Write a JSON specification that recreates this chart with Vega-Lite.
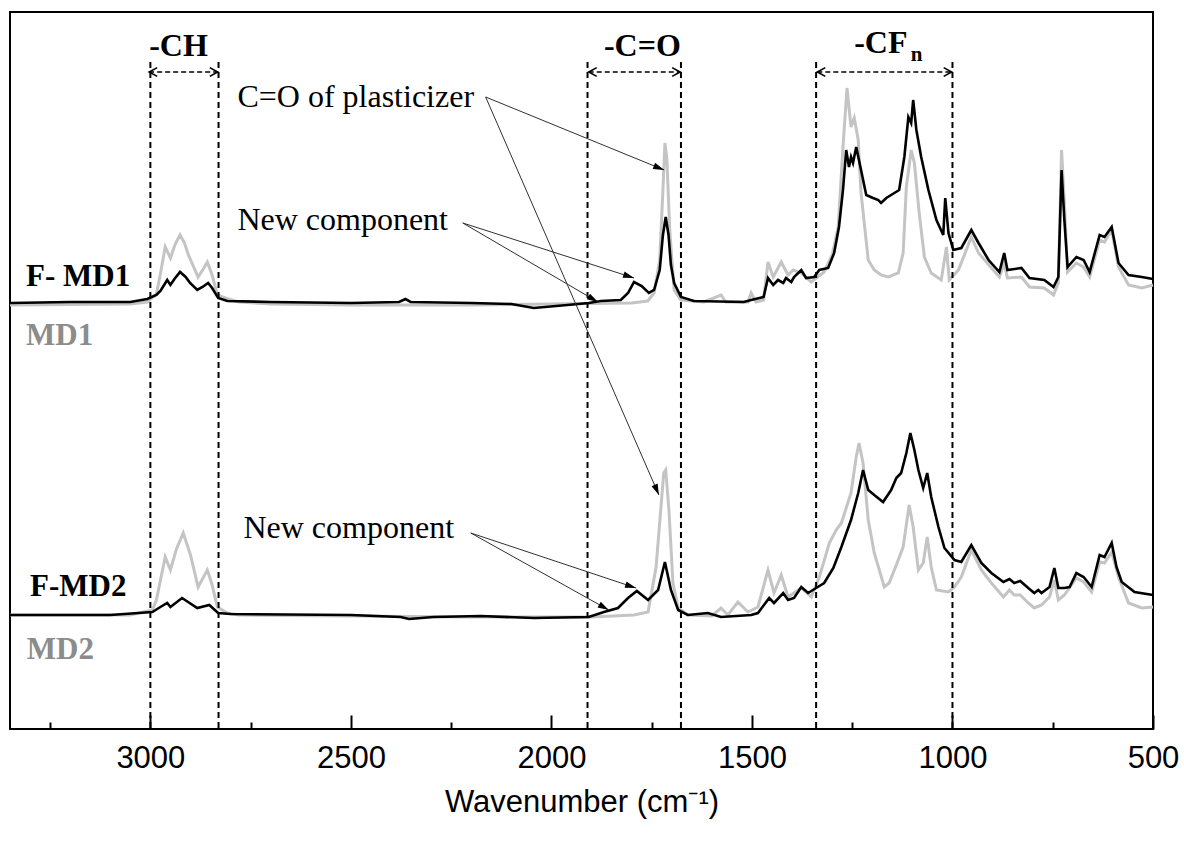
{
  "$schema": "https://vega.github.io/schema/vega-lite/v6.json",
  "width": 1143,
  "height": 717,
  "autosize": {"type": "none"},
  "padding": {"left": 10, "top": 12, "right": 31, "bottom": 114},
  "background": "white",
  "config": {"view": {"stroke": "black", "strokeWidth": 2}, "axis": {"grid": false}},
  "resolve": {"scale": {"x": "independent"}, "axis": {"x": "independent"}},
  "datasets": {
    "md1": [
      {"x":3350,"y":4.24},{"x":3050,"y":4.25},{"x":3008,"y":4.27},{"x":2985,"y":4.35},{"x":2975,"y":4.55},{"x":2963,"y":4.82},{"x":2950,"y":4.71},{"x":2938,"y":4.85},{"x":2926,"y":4.94},{"x":2915,"y":4.86},{"x":2905,"y":4.74},{"x":2881,"y":4.52},{"x":2868,"y":4.6},{"x":2858,"y":4.67},{"x":2846,"y":4.54},{"x":2833,"y":4.34},{"x":2813,"y":4.31},{"x":2780,"y":4.27},{"x":2700,"y":4.25},{"x":2500,"y":4.24},{"x":2200,"y":4.24},{"x":2000,"y":4.25},{"x":1800,"y":4.26},{"x":1760,"y":4.28},{"x":1744,"y":4.36},{"x":1730,"y":4.69},{"x":1722,"y":5.39},{"x":1717,"y":5.86},{"x":1712,"y":5.69},{"x":1705,"y":4.99},{"x":1694,"y":4.39},{"x":1677,"y":4.29},{"x":1620,"y":4.27},{"x":1577,"y":4.34},{"x":1565,"y":4.27},{"x":1510,"y":4.27},{"x":1502,"y":4.36},{"x":1490,"y":4.27},{"x":1471,"y":4.29},{"x":1460,"y":4.67},{"x":1447,"y":4.52},{"x":1427,"y":4.67},{"x":1410,"y":4.54},{"x":1397,"y":4.59},{"x":1377,"y":4.56},{"x":1352,"y":4.47},{"x":1340,"y":4.51},{"x":1320,"y":4.57},{"x":1300,"y":4.74},{"x":1285,"y":5.02},{"x":1273,"y":5.82},{"x":1263,"y":6.41},{"x":1253,"y":6.02},{"x":1245,"y":6.11},{"x":1235,"y":5.89},{"x":1228,"y":5.36},{"x":1210,"y":4.69},{"x":1195,"y":4.59},{"x":1178,"y":4.54},{"x":1160,"y":4.52},{"x":1135,"y":4.56},{"x":1123,"y":4.76},{"x":1115,"y":5.42},{"x":1103,"y":5.79},{"x":1095,"y":5.66},{"x":1083,"y":5.16},{"x":1070,"y":4.72},{"x":1053,"y":4.56},{"x":1028,"y":4.49},{"x":1015,"y":4.82},{"x":1008,"y":4.49},{"x":985,"y":4.59},{"x":953,"y":4.92},{"x":935,"y":4.76},{"x":883,"y":4.52},{"x":871,"y":4.66},{"x":863,"y":4.51},{"x":828,"y":4.52},{"x":808,"y":4.42},{"x":771,"y":4.41},{"x":748,"y":4.34},{"x":736,"y":4.46},{"x":728,"y":5.79},{"x":721,"y":5.26},{"x":713,"y":4.57},{"x":691,"y":4.66},{"x":673,"y":4.62},{"x":658,"y":4.52},{"x":633,"y":4.89},{"x":621,"y":4.87},{"x":603,"y":4.99},{"x":586,"y":4.62},{"x":561,"y":4.44},{"x":528,"y":4.41},{"x":500,"y":4.44}
    ],
    "md2": [
      {"x":3350,"y":1.14},{"x":3050,"y":1.14},{"x":2995,"y":1.19},{"x":2985,"y":1.29},{"x":2963,"y":1.72},{"x":2950,"y":1.59},{"x":2935,"y":1.8},{"x":2918,"y":1.96},{"x":2900,"y":1.74},{"x":2881,"y":1.42},{"x":2858,"y":1.59},{"x":2846,"y":1.44},{"x":2833,"y":1.22},{"x":2808,"y":1.16},{"x":2780,"y":1.14},{"x":2500,"y":1.13},{"x":2200,"y":1.12},{"x":1900,"y":1.12},{"x":1794,"y":1.14},{"x":1759,"y":1.17},{"x":1739,"y":1.62},{"x":1720,"y":2.56},{"x":1715,"y":2.59},{"x":1707,"y":2.19},{"x":1697,"y":1.46},{"x":1684,"y":1.21},{"x":1660,"y":1.14},{"x":1600,"y":1.13},{"x":1577,"y":1.21},{"x":1560,"y":1.14},{"x":1535,"y":1.27},{"x":1510,"y":1.17},{"x":1485,"y":1.22},{"x":1460,"y":1.59},{"x":1445,"y":1.36},{"x":1427,"y":1.54},{"x":1410,"y":1.32},{"x":1377,"y":1.41},{"x":1352,"y":1.32},{"x":1332,"y":1.52},{"x":1307,"y":1.86},{"x":1290,"y":1.99},{"x":1277,"y":2.06},{"x":1253,"y":2.36},{"x":1240,"y":2.72},{"x":1233,"y":2.86},{"x":1223,"y":2.66},{"x":1210,"y":2.09},{"x":1195,"y":1.76},{"x":1170,"y":1.42},{"x":1158,"y":1.46},{"x":1140,"y":1.64},{"x":1123,"y":1.82},{"x":1108,"y":2.24},{"x":1098,"y":2.02},{"x":1085,"y":1.59},{"x":1073,"y":1.66},{"x":1063,"y":1.92},{"x":1053,"y":1.62},{"x":1040,"y":1.39},{"x":1010,"y":1.37},{"x":995,"y":1.42},{"x":978,"y":1.52},{"x":953,"y":1.79},{"x":928,"y":1.59},{"x":903,"y":1.46},{"x":873,"y":1.32},{"x":858,"y":1.39},{"x":846,"y":1.34},{"x":831,"y":1.34},{"x":811,"y":1.26},{"x":796,"y":1.21},{"x":778,"y":1.24},{"x":758,"y":1.32},{"x":746,"y":1.49},{"x":736,"y":1.29},{"x":721,"y":1.34},{"x":691,"y":1.51},{"x":673,"y":1.47},{"x":653,"y":1.37},{"x":633,"y":1.67},{"x":621,"y":1.66},{"x":603,"y":1.77},{"x":586,"y":1.52},{"x":561,"y":1.26},{"x":528,"y":1.21},{"x":500,"y":1.22}
    ],
    "fmd1": [
      {"x":3350,"y":4.26},{"x":3200,"y":4.27},{"x":3050,"y":4.27},{"x":3008,"y":4.3},{"x":2985,"y":4.34},{"x":2975,"y":4.38},{"x":2958,"y":4.49},{"x":2950,"y":4.44},{"x":2940,"y":4.5},{"x":2926,"y":4.57},{"x":2912,"y":4.52},{"x":2901,"y":4.46},{"x":2883,"y":4.39},{"x":2870,"y":4.42},{"x":2856,"y":4.46},{"x":2846,"y":4.41},{"x":2831,"y":4.31},{"x":2808,"y":4.28},{"x":2700,"y":4.27},{"x":2500,"y":4.26},{"x":2380,"y":4.27},{"x":2364,"y":4.3},{"x":2351,"y":4.27},{"x":2200,"y":4.26},{"x":2100,"y":4.25},{"x":2044,"y":4.21},{"x":1960,"y":4.24},{"x":1907,"y":4.26},{"x":1877,"y":4.28},{"x":1827,"y":4.29},{"x":1809,"y":4.36},{"x":1794,"y":4.47},{"x":1775,"y":4.43},{"x":1757,"y":4.36},{"x":1744,"y":4.39},{"x":1730,"y":4.59},{"x":1722,"y":4.94},{"x":1715,"y":5.12},{"x":1708,"y":4.94},{"x":1702,"y":4.64},{"x":1694,"y":4.46},{"x":1677,"y":4.32},{"x":1645,"y":4.28},{"x":1520,"y":4.27},{"x":1502,"y":4.29},{"x":1471,"y":4.32},{"x":1460,"y":4.51},{"x":1447,"y":4.44},{"x":1435,"y":4.49},{"x":1422,"y":4.46},{"x":1415,"y":4.51},{"x":1402,"y":4.47},{"x":1395,"y":4.52},{"x":1377,"y":4.59},{"x":1365,"y":4.51},{"x":1345,"y":4.52},{"x":1332,"y":4.59},{"x":1310,"y":4.61},{"x":1295,"y":4.76},{"x":1283,"y":5.02},{"x":1273,"y":5.39},{"x":1265,"y":5.79},{"x":1258,"y":5.62},{"x":1253,"y":5.72},{"x":1248,"y":5.66},{"x":1240,"y":5.82},{"x":1228,"y":5.59},{"x":1215,"y":5.34},{"x":1198,"y":5.31},{"x":1185,"y":5.29},{"x":1178,"y":5.26},{"x":1165,"y":5.31},{"x":1145,"y":5.36},{"x":1133,"y":5.39},{"x":1120,"y":5.72},{"x":1110,"y":6.12},{"x":1103,"y":6.06},{"x":1098,"y":6.29},{"x":1090,"y":5.99},{"x":1078,"y":5.72},{"x":1060,"y":5.39},{"x":1040,"y":5.09},{"x":1023,"y":4.94},{"x":1018,"y":5.31},{"x":1010,"y":4.96},{"x":998,"y":4.79},{"x":978,"y":4.81},{"x":953,"y":4.99},{"x":935,"y":4.86},{"x":910,"y":4.69},{"x":883,"y":4.57},{"x":871,"y":4.76},{"x":863,"y":4.59},{"x":828,"y":4.61},{"x":808,"y":4.51},{"x":771,"y":4.49},{"x":748,"y":4.42},{"x":736,"y":4.52},{"x":728,"y":5.59},{"x":721,"y":5.09},{"x":713,"y":4.62},{"x":691,"y":4.72},{"x":673,"y":4.69},{"x":658,"y":4.57},{"x":633,"y":4.94},{"x":621,"y":4.92},{"x":603,"y":5.02},{"x":586,"y":4.66},{"x":561,"y":4.54},{"x":528,"y":4.52},{"x":500,"y":4.5}
    ],
    "fmd2": [
      {"x":3350,"y":1.14},{"x":3100,"y":1.14},{"x":2995,"y":1.17},{"x":2975,"y":1.22},{"x":2958,"y":1.26},{"x":2950,"y":1.22},{"x":2921,"y":1.31},{"x":2883,"y":1.21},{"x":2853,"y":1.24},{"x":2831,"y":1.16},{"x":2800,"y":1.15},{"x":2500,"y":1.14},{"x":2376,"y":1.12},{"x":2355,"y":1.1},{"x":2294,"y":1.12},{"x":2176,"y":1.13},{"x":2044,"y":1.11},{"x":1907,"y":1.12},{"x":1869,"y":1.17},{"x":1834,"y":1.21},{"x":1809,"y":1.31},{"x":1787,"y":1.38},{"x":1759,"y":1.29},{"x":1734,"y":1.39},{"x":1717,"y":1.67},{"x":1702,"y":1.39},{"x":1684,"y":1.19},{"x":1660,"y":1.14},{"x":1610,"y":1.16},{"x":1577,"y":1.12},{"x":1502,"y":1.14},{"x":1485,"y":1.16},{"x":1457,"y":1.31},{"x":1445,"y":1.26},{"x":1422,"y":1.36},{"x":1410,"y":1.29},{"x":1395,"y":1.31},{"x":1377,"y":1.42},{"x":1360,"y":1.36},{"x":1340,"y":1.41},{"x":1320,"y":1.46},{"x":1297,"y":1.61},{"x":1277,"y":1.82},{"x":1253,"y":2.09},{"x":1235,"y":2.36},{"x":1223,"y":2.59},{"x":1210,"y":2.39},{"x":1195,"y":2.34},{"x":1173,"y":2.27},{"x":1153,"y":2.39},{"x":1140,"y":2.51},{"x":1128,"y":2.56},{"x":1115,"y":2.76},{"x":1105,"y":2.96},{"x":1095,"y":2.79},{"x":1085,"y":2.59},{"x":1073,"y":2.41},{"x":1063,"y":2.56},{"x":1053,"y":2.32},{"x":1035,"y":2.02},{"x":1020,"y":1.81},{"x":995,"y":1.69},{"x":978,"y":1.67},{"x":953,"y":1.84},{"x":928,"y":1.66},{"x":903,"y":1.56},{"x":873,"y":1.47},{"x":858,"y":1.5},{"x":846,"y":1.46},{"x":831,"y":1.48},{"x":811,"y":1.41},{"x":796,"y":1.36},{"x":786,"y":1.39},{"x":778,"y":1.36},{"x":758,"y":1.42},{"x":746,"y":1.61},{"x":736,"y":1.41},{"x":721,"y":1.41},{"x":708,"y":1.42},{"x":691,"y":1.56},{"x":673,"y":1.52},{"x":653,"y":1.42},{"x":633,"y":1.74},{"x":621,"y":1.72},{"x":603,"y":1.86},{"x":591,"y":1.62},{"x":578,"y":1.47},{"x":546,"y":1.37},{"x":500,"y":1.34}
    ],
    "vlines": [{"x":3000,"top":6.67,"bottom":0},{"x":2830,"top":6.67,"bottom":0},{"x":1910,"top":6.67,"bottom":0},{"x":1677,"top":6.67,"bottom":0},{"x":1340,"top":6.67,"bottom":0},{"x":1000,"top":6.67,"bottom":0}],
    "brackets": [{"a":3003,"b":2832,"y":6.57},{"a":1907,"b":1679,"y":6.57},{"a":1337,"b":1002,"y":6.57}],
    "arrows": [
      {"id":"a1","x1":2164,"y1":6.32,"x2":1719,"y2":5.59},
      {"id":"a2","x1":2164,"y1":6.32,"x2":1732,"y2":2.34},
      {"id":"a3","x1":2221,"y1":5.06,"x2":1794,"y2":4.51},
      {"id":"a4","x1":2221,"y1":5.06,"x2":1884,"y2":4.27},
      {"id":"a5","x1":2201,"y1":1.96,"x2":1789,"y2":1.41},
      {"id":"a6","x1":2201,"y1":1.96,"x2":1857,"y2":1.19}
    ],
    "labels": [
      {"t":"-CH","x":3003,"y":6.83,"k":"region"},
      {"t":"-C=O","x":1869,"y":6.83,"k":"region"},
      {"t":"-CF","x":1245,"y":6.86,"k":"region"},
      {"t":"n","x":1104,"y":6.74,"k":"sub"},
      {"t":"F- MD1","x":3310,"y":4.52,"k":"sample"},
      {"t":"MD1","x":3310,"y":3.93,"k":"ref"},
      {"t":"F-MD2","x":3300,"y":1.42,"k":"sample"},
      {"t":"MD2","x":3308,"y":0.79,"k":"ref"},
      {"t":"C=O of plasticizer","x":2783,"y":6.32,"k":"note"},
      {"t":"New component","x":2783,"y":5.09,"k":"note"},
      {"t":"New component","x":2768,"y":2.01,"k":"note"}
    ]
  },
  "layer": [
    {
      "data": {"name": "md1"},
      "mark": {"type": "line", "color": "#c4c4c4", "strokeWidth": 3},
      "encoding": {
        "x": {"field": "x", "type": "quantitative", "scale": {"domain": [500, 3350], "reverse": true, "nice": false, "zero": false},
          "axis": {"orient": "bottom", "values": [3000, 2500, 2000, 1500, 1000, 500], "format": "d", "ticks": false, "domain": false, "labelFont": "Liberation Sans", "labelFontSize": 31, "labelColor": "black", "labelPadding": 14, "labelFlush": false, "labelOverlap": false, "labelBound": false, "title": "Wavenumber (cm⁻¹)", "titleFont": "Liberation Sans", "titleFontSize": 31, "titleFontWeight": "normal", "titleColor": "black", "titlePadding": 14}},
        "y": {"field": "y", "type": "quantitative", "scale": {"domain": [0, 7.17], "nice": false, "zero": false}, "axis": null}
      }
    },
    {
      "data": {"name": "md2"},
      "mark": {"type": "line", "color": "#c4c4c4", "strokeWidth": 3},
      "encoding": {
        "x": {"field": "x", "type": "quantitative", "scale": {"domain": [500, 3350], "reverse": true, "nice": false, "zero": false},
          "axis": {"orient": "bottom", "values": [3000, 2500, 2000, 1500, 1000, 500], "labels": false, "domain": false, "title": null, "ticks": true, "offset": -14, "tickSize": 14, "tickWidth": 2, "tickColor": "black"}},
        "y": {"field": "y", "type": "quantitative", "scale": {"domain": [0, 7.17], "nice": false, "zero": false}, "axis": null}
      }
    },
    {
      "data": {"name": "fmd1"},
      "mark": {"type": "line", "color": "black", "strokeWidth": 2.6},
      "encoding": {
        "x": {"field": "x", "type": "quantitative", "scale": {"domain": [500, 3350], "reverse": true, "nice": false, "zero": false},
          "axis": {"orient": "bottom", "values": [3250, 2750, 2250, 1750, 1250, 750], "labels": false, "domain": false, "title": null, "ticks": true, "offset": -7, "tickSize": 7, "tickWidth": 2, "tickColor": "black"}},
        "y": {"field": "y", "type": "quantitative", "scale": {"domain": [0, 7.17], "nice": false, "zero": false}, "axis": null}
      }
    },
    {
      "data": {"name": "fmd2"},
      "mark": {"type": "line", "color": "black", "strokeWidth": 2.6},
      "encoding": {
        "x": {"field": "x", "type": "quantitative", "scale": {"domain": [500, 3350], "reverse": true, "nice": false, "zero": false}, "axis": null},
        "y": {"field": "y", "type": "quantitative", "scale": {"domain": [0, 7.17], "nice": false, "zero": false}, "axis": null}
      }
    },
    {
      "data": {"name": "vlines"},
      "mark": {"type": "rule", "color": "black", "strokeWidth": 2, "strokeDash": [6, 4]},
      "encoding": {
        "x": {"field": "x", "type": "quantitative", "scale": {"domain": [500, 3350], "reverse": true, "nice": false, "zero": false}, "axis": null},
        "y": {"field": "top", "type": "quantitative", "scale": {"domain": [0, 7.17], "nice": false, "zero": false}, "axis": null},
        "y2": {"field": "bottom"}
      }
    },
    {
      "data": {"name": "brackets"},
      "mark": {"type": "rule", "color": "black", "strokeWidth": 1.6, "strokeDash": [5, 3]},
      "encoding": {
        "x": {"field": "a", "type": "quantitative", "scale": {"domain": [500, 3350], "reverse": true, "nice": false, "zero": false}, "axis": null},
        "x2": {"field": "b"},
        "y": {"field": "y", "type": "quantitative", "scale": {"domain": [0, 7.17], "nice": false, "zero": false}, "axis": null}
      }
    },
    {
      "data": {"name": "brackets"},
      "mark": {"type": "point", "shape": "M1,-0.55L0,0L1,0.55", "filled": false, "color": "black", "strokeWidth": 1.6, "size": 256, "opacity": 1},
      "encoding": {
        "x": {"field": "a", "type": "quantitative", "scale": {"domain": [500, 3350], "reverse": true, "nice": false, "zero": false}, "axis": null},
        "y": {"field": "y", "type": "quantitative", "scale": {"domain": [0, 7.17], "nice": false, "zero": false}, "axis": null}
      }
    },
    {
      "data": {"name": "brackets"},
      "mark": {"type": "point", "shape": "M-1,-0.55L0,0L-1,0.55", "filled": false, "color": "black", "strokeWidth": 1.6, "size": 256, "opacity": 1},
      "encoding": {
        "x": {"field": "b", "type": "quantitative", "scale": {"domain": [500, 3350], "reverse": true, "nice": false, "zero": false}, "axis": null},
        "y": {"field": "y", "type": "quantitative", "scale": {"domain": [0, 7.17], "nice": false, "zero": false}, "axis": null}
      }
    },
    {
      "data": {"name": "arrows"},
      "mark": {"type": "rule", "color": "#303030", "strokeWidth": 1},
      "encoding": {
        "x": {"field": "x1", "type": "quantitative", "scale": {"domain": [500, 3350], "reverse": true, "nice": false, "zero": false}, "axis": null},
        "x2": {"field": "x2"},
        "y": {"field": "y1", "type": "quantitative", "scale": {"domain": [0, 7.17], "nice": false, "zero": false}, "axis": null},
        "y2": {"field": "y2"}
      }
    },
    {"data": {"name": "arrows"}, "transform": [{"filter": "datum.id == 'a1'"}],
      "mark": {"type": "point", "shape": "M0,0L-0.6,2L0.6,2Z", "filled": true, "color": "black", "size": 121, "opacity": 1, "angle": 112},
      "encoding": {"x": {"field": "x2", "type": "quantitative", "scale": {"domain": [500, 3350], "reverse": true, "nice": false, "zero": false}, "axis": null}, "y": {"field": "y2", "type": "quantitative", "scale": {"domain": [0, 7.17], "nice": false, "zero": false}, "axis": null}}},
    {"data": {"name": "arrows"}, "transform": [{"filter": "datum.id == 'a2'"}],
      "mark": {"type": "point", "shape": "M0,0L-0.6,2L0.6,2Z", "filled": true, "color": "black", "size": 121, "opacity": 1, "angle": 157},
      "encoding": {"x": {"field": "x2", "type": "quantitative", "scale": {"domain": [500, 3350], "reverse": true, "nice": false, "zero": false}, "axis": null}, "y": {"field": "y2", "type": "quantitative", "scale": {"domain": [0, 7.17], "nice": false, "zero": false}, "axis": null}}},
    {"data": {"name": "arrows"}, "transform": [{"filter": "datum.id == 'a3'"}],
      "mark": {"type": "point", "shape": "M0,0L-0.6,2L0.6,2Z", "filled": true, "color": "black", "size": 121, "opacity": 1, "angle": 108},
      "encoding": {"x": {"field": "x2", "type": "quantitative", "scale": {"domain": [500, 3350], "reverse": true, "nice": false, "zero": false}, "axis": null}, "y": {"field": "y2", "type": "quantitative", "scale": {"domain": [0, 7.17], "nice": false, "zero": false}, "axis": null}}},
    {"data": {"name": "arrows"}, "transform": [{"filter": "datum.id == 'a4'"}],
      "mark": {"type": "point", "shape": "M0,0L-0.6,2L0.6,2Z", "filled": true, "color": "black", "size": 121, "opacity": 1, "angle": 120},
      "encoding": {"x": {"field": "x2", "type": "quantitative", "scale": {"domain": [500, 3350], "reverse": true, "nice": false, "zero": false}, "axis": null}, "y": {"field": "y2", "type": "quantitative", "scale": {"domain": [0, 7.17], "nice": false, "zero": false}, "axis": null}}},
    {"data": {"name": "arrows"}, "transform": [{"filter": "datum.id == 'a5'"}],
      "mark": {"type": "point", "shape": "M0,0L-0.6,2L0.6,2Z", "filled": true, "color": "black", "size": 121, "opacity": 1, "angle": 108},
      "encoding": {"x": {"field": "x2", "type": "quantitative", "scale": {"domain": [500, 3350], "reverse": true, "nice": false, "zero": false}, "axis": null}, "y": {"field": "y2", "type": "quantitative", "scale": {"domain": [0, 7.17], "nice": false, "zero": false}, "axis": null}}},
    {"data": {"name": "arrows"}, "transform": [{"filter": "datum.id == 'a6'"}],
      "mark": {"type": "point", "shape": "M0,0L-0.6,2L0.6,2Z", "filled": true, "color": "black", "size": 121, "opacity": 1, "angle": 119},
      "encoding": {"x": {"field": "x2", "type": "quantitative", "scale": {"domain": [500, 3350], "reverse": true, "nice": false, "zero": false}, "axis": null}, "y": {"field": "y2", "type": "quantitative", "scale": {"domain": [0, 7.17], "nice": false, "zero": false}, "axis": null}}},
    {"data": {"name": "labels"}, "transform": [{"filter": "datum.k == 'region'"}],
      "mark": {"type": "text", "font": "Liberation Serif", "fontWeight": "bold", "fontSize": 32, "color": "black", "align": "left", "baseline": "middle"},
      "encoding": {"x": {"field": "x", "type": "quantitative", "scale": {"domain": [500, 3350], "reverse": true, "nice": false, "zero": false}, "axis": null}, "y": {"field": "y", "type": "quantitative", "scale": {"domain": [0, 7.17], "nice": false, "zero": false}, "axis": null}, "text": {"field": "t"}}},
    {"data": {"name": "labels"}, "transform": [{"filter": "datum.k == 'sub'"}],
      "mark": {"type": "text", "font": "Liberation Serif", "fontWeight": "bold", "fontSize": 21, "color": "black", "align": "left", "baseline": "middle"},
      "encoding": {"x": {"field": "x", "type": "quantitative", "scale": {"domain": [500, 3350], "reverse": true, "nice": false, "zero": false}, "axis": null}, "y": {"field": "y", "type": "quantitative", "scale": {"domain": [0, 7.17], "nice": false, "zero": false}, "axis": null}, "text": {"field": "t"}}},
    {"data": {"name": "labels"}, "transform": [{"filter": "datum.k == 'sample'"}],
      "mark": {"type": "text", "font": "Liberation Serif", "fontWeight": "bold", "fontSize": 31, "color": "black", "align": "left", "baseline": "middle"},
      "encoding": {"x": {"field": "x", "type": "quantitative", "scale": {"domain": [500, 3350], "reverse": true, "nice": false, "zero": false}, "axis": null}, "y": {"field": "y", "type": "quantitative", "scale": {"domain": [0, 7.17], "nice": false, "zero": false}, "axis": null}, "text": {"field": "t"}}},
    {"data": {"name": "labels"}, "transform": [{"filter": "datum.k == 'ref'"}],
      "mark": {"type": "text", "font": "Liberation Serif", "fontWeight": "bold", "fontSize": 31, "color": "#8c8c8c", "align": "left", "baseline": "middle"},
      "encoding": {"x": {"field": "x", "type": "quantitative", "scale": {"domain": [500, 3350], "reverse": true, "nice": false, "zero": false}, "axis": null}, "y": {"field": "y", "type": "quantitative", "scale": {"domain": [0, 7.17], "nice": false, "zero": false}, "axis": null}, "text": {"field": "t"}}},
    {"data": {"name": "labels"}, "transform": [{"filter": "datum.k == 'note'"}],
      "mark": {"type": "text", "font": "Liberation Serif", "fontWeight": "normal", "fontSize": 32, "color": "black", "align": "left", "baseline": "middle"},
      "encoding": {"x": {"field": "x", "type": "quantitative", "scale": {"domain": [500, 3350], "reverse": true, "nice": false, "zero": false}, "axis": null}, "y": {"field": "y", "type": "quantitative", "scale": {"domain": [0, 7.17], "nice": false, "zero": false}, "axis": null}, "text": {"field": "t"}}}
  ]
}
